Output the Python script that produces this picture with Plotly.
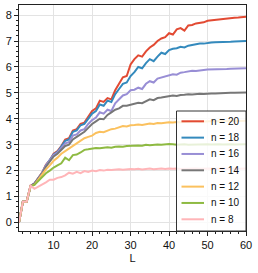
import plotly.graph_objects as go

L = list(range(1, 61))

n20 = [0.0, 0.8, 0.82, 1.42, 1.5, 1.72, 1.92, 2.22, 2.4, 2.65,
       2.75, 2.95, 3.2, 3.25, 3.55, 3.6, 3.8, 3.85, 4.1, 4.3,
       4.4, 4.7, 4.65, 4.8, 4.75, 5.1, 5.35, 5.6, 5.65, 6.1,
       6.3, 6.45, 6.4, 6.6, 6.75, 6.85, 7.0, 7.1, 7.15, 7.3,
       7.25, 7.45, 7.5, 7.4, 7.6, 7.62, 7.68, 7.7, 7.72, 7.78,
       7.8, 7.82, 7.84, 7.85, 7.87, 7.88, 7.9, 7.91, 7.92, 7.94]
n18 = [0.0, 0.8, 0.8, 1.4, 1.5, 1.7, 1.9, 2.2, 2.42, 2.62,
       2.72, 2.92, 3.15, 3.2, 3.5, 3.55, 3.75, 3.8, 4.0, 4.2,
       4.3, 4.55, 4.5, 4.7, 4.65, 4.95, 5.15, 5.35, 5.4, 5.65,
       5.8, 6.0, 5.95, 6.15, 6.3, 6.22, 6.4, 6.55, 6.5, 6.65,
       6.7, 6.72, 6.78, 6.75, 6.82, 6.85, 6.87, 6.9, 6.9, 6.93,
       6.94, 6.95, 6.95, 6.96, 6.97, 6.97, 6.98, 6.98, 6.99, 7.0]
n16 = [0.0, 0.8, 0.8, 1.4, 1.5, 1.7, 1.9, 2.2, 2.4, 2.6,
       2.7, 2.88, 3.05, 3.1, 3.35, 3.4, 3.55, 3.6, 3.8, 3.95,
       4.05, 4.25, 4.2, 4.35, 4.3, 4.6, 4.75, 4.9, 4.95, 5.1,
       5.12, 5.2, 5.15, 5.35, 5.45, 5.4, 5.55, 5.6, 5.62, 5.7,
       5.72, 5.7, 5.78, 5.8, 5.82, 5.85, 5.84, 5.87, 5.88, 5.9,
       5.9, 5.91, 5.9, 5.92, 5.92, 5.93, 5.93, 5.94, 5.94, 5.95]
n14 = [0.0, 0.8, 0.8, 1.4, 1.5, 1.7, 1.88, 2.15, 2.35, 2.55,
       2.65, 2.8, 2.95, 3.0, 3.2, 3.3, 3.4, 3.5, 3.65, 3.8,
       3.9, 4.0, 3.98, 4.15, 4.25, 4.35, 4.4, 4.5, 4.5, 4.55,
       4.58, 4.62, 4.6, 4.68, 4.75, 4.72, 4.8, 4.82, 4.85, 4.88,
       4.9, 4.88, 4.92, 4.93, 4.95, 4.94, 4.96, 4.97, 4.96, 4.98,
       4.98, 4.98, 4.99, 4.99, 4.99, 5.0, 5.0, 5.0, 5.0, 5.01]
n12 = [0.0, 0.8, 0.8, 1.4, 1.45, 1.65, 1.85, 2.05, 2.2, 2.38,
       2.5, 2.65, 2.75, 2.85, 2.95, 3.05, 3.15, 3.25, 3.3, 3.35,
       3.45, 3.5, 3.48, 3.55, 3.6, 3.62, 3.68, 3.72, 3.7, 3.75,
       3.76, 3.78, 3.76, 3.8, 3.82, 3.8, 3.84, 3.83, 3.86, 3.87,
       3.86, 3.88, 3.87, 3.88, 3.89, 3.88, 3.9, 3.89, 3.9, 3.9,
       3.9, 3.91, 3.9, 3.91, 3.9, 3.91, 3.92, 3.91, 3.92, 3.92]
n10 = [0.0, 0.8, 0.8, 1.4, 1.45, 1.6, 1.75, 1.9, 2.0, 2.12,
       2.2, 2.28, 2.5, 2.4, 2.6, 2.62, 2.7, 2.8, 2.82, 2.85,
       2.87, 2.86, 2.88, 2.9, 2.88, 2.92, 2.93, 2.92, 2.95, 2.96,
       2.95, 2.97, 2.96, 3.0, 2.98, 3.0, 3.01, 3.0, 3.02, 3.03,
       3.02, 3.0, 3.01, 3.02, 3.0, 3.01, 3.02, 3.01, 3.02, 3.02,
       3.01, 3.02, 3.02, 3.01, 3.02, 3.02, 3.01, 3.02, 3.02, 3.02]
n8 = [0.0, 0.8, 0.8, 1.42, 1.3, 1.38, 1.45, 1.55, 1.65, 1.65,
      1.72, 1.75, 1.82, 1.92, 1.88, 1.95, 1.9, 1.98, 1.95, 2.0,
      1.98, 2.02, 2.0, 2.03, 2.02, 2.04, 2.05, 2.03, 2.05, 2.06,
      2.05, 2.07, 2.04, 2.06, 2.08, 2.05, 2.07, 2.08, 2.06, 2.08,
      2.07, 2.08, 2.06, 2.07, 2.08, 2.07, 2.08, 2.07, 2.08, 2.07,
      2.08, 2.07, 2.08, 2.08, 2.07, 2.08, 2.08, 2.07, 2.08, 2.08]

series_names = ["n = 20", "n = 18", "n = 16", "n = 14", "n = 12", "n = 10", "n = 8"]
series_values = [n20, n18, n16, n14, n12, n10, n8]
colors = ["#E24A33", "#348ABD", "#988ED5", "#777777", "#FBC15E", "#8EBA42", "#FFB5B8"]

x_ticks = [10, 20, 30, 40, 50, 60]
y_ticks = [0, 1, 2, 3, 4, 5, 6, 7, 8]

FONT = "Liberation Sans, Arial, sans-serif"
W, H = 258, 273
ML, MR, MT, MB = 19, 12, 5, 42
PW, PH = W - ML - MR, H - MT - MB


def px_x(p):
    return (p - ML) / PW


def px_y(p):
    return (H - MB - p) / PH


fig = go.Figure()
for name, vals, c in zip(series_names, series_values, colors):
    fig.add_trace(go.Scatter(x=L, y=vals, mode="lines", name=name,
                             line=dict(color=c, width=2), showlegend=False))

axis_common = dict(
    showline=True, linecolor="#222", linewidth=1, mirror=True,
    showgrid=True, gridcolor="#e3e3e3", gridwidth=1,
    ticks="outside", ticklen=4, tickcolor="#222", tickwidth=1,
    zeroline=False,
    tickfont=dict(family=FONT, size=11, color="#111"),
)

fig.update_xaxes(range=[1, 60], tickvals=x_ticks,
                 minor=dict(dtick=2, tick0=0, ticks="outside", ticklen=2, tickcolor="#222", showgrid=False),
                 title=dict(text="L", standoff=4, font=dict(family=FONT, size=11, color="#111")),
                 **axis_common)
fig.update_yaxes(range=[-0.33, 8.39], tickvals=y_ticks,
                 minor=dict(dtick=0.2, tick0=0, ticks="outside", ticklen=2, tickcolor="#222", showgrid=False),
                 **axis_common)

# legend box drawn in the lower right corner of the plot area
shapes = [dict(type="rect", xref="paper", yref="paper",
               x0=px_x(176.5), x1=1, y0=0, y1=px_y(111),
               line=dict(color="#333", width=1), fillcolor="rgba(255,255,255,0.8)")]
annotations = []
for i, (name, c) in enumerate(zip(series_names, colors)):
    yc = 121.3 + i * 16.33
    shapes.append(dict(type="line", xref="paper", yref="paper",
                       x0=px_x(181.5), x1=px_x(204), y0=px_y(yc), y1=px_y(yc),
                       line=dict(color=c, width=2)))
    annotations.append(dict(xref="paper", yref="paper", x=px_x(209), y=px_y(yc),
                            text=name, showarrow=False, xanchor="left", yanchor="middle",
                            font=dict(family=FONT, size=10, color="#111")))

fig.update_layout(
    width=W, height=H,
    margin=dict(l=ML, r=MR, t=MT, b=MB),
    paper_bgcolor="white", plot_bgcolor="white",
    font=dict(family=FONT, size=10, color="#111"),
    shapes=shapes, annotations=annotations,
    showlegend=False,
)

fig.write_html("out.html", config={"displayModeBar": False},
               post_script="document.body.style.margin='0';")
